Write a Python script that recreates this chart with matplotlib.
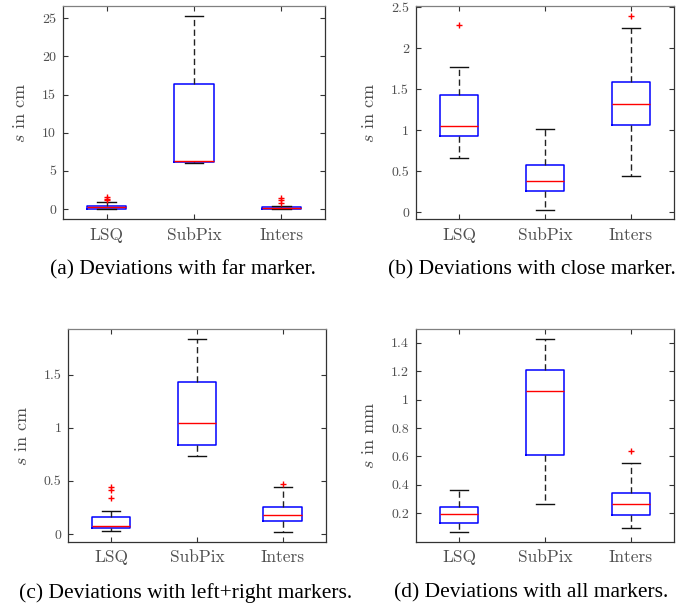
"""Four boxplot panels of localisation deviations (LSQ / SubPix / Inters)."""
import matplotlib

matplotlib.use("Agg")
import matplotlib.pyplot as plt  # noqa: E402
from matplotlib.ticker import FormatStrFormatter  # noqa: E402

plt.rcParams["mathtext.fontset"] = "cm"
plt.rcParams["axes.formatter.use_mathtext"] = True

METHODS = ["LSQ", "SubPix", "Inters"]

# (a) far marker, cm
A_Q1 = [0.05, 6.2, 0.05]
A_MED = [0.22, 6.3, 0.15]
A_Q3 = [0.38, 16.45, 0.25]
A_LO = [0.0, 6.1, 0.0]
A_HI = [0.9, 25.25, 0.45]
A_FLIERS = [[1.15, 1.35, 1.6], [], [0.8, 1.2, 1.45]]

# (b) close marker, cm
B_Q1 = [0.925, 0.253, 1.062]
B_MED = [1.055, 0.383, 1.315]
B_Q3 = [1.432, 0.578, 1.583]
B_LO = [0.663, 0.028, 0.443]
B_HI = [1.775, 1.017, 2.247]
B_FLIERS = [[2.28], [], [2.39]]

# (c) left+right markers, cm
C_Q1 = [0.059, 0.835, 0.125]
C_MED = [0.078, 1.042, 0.176]
C_Q3 = [0.16, 1.434, 0.251]
C_LO = [0.028, 0.732, 0.019]
C_HI = [0.219, 1.836, 0.443]
C_FLIERS = [[0.339, 0.415, 0.44], [], [0.471]]

# (d) all markers, mm
D_Q1 = [0.13, 0.612, 0.189]
D_MED = [0.196, 1.062, 0.268]
D_Q3 = [0.245, 1.207, 0.34]
D_LO = [0.071, 0.263, 0.098]
D_HI = [0.365, 1.426, 0.556]
D_FLIERS = [[], [], [0.64]]

PANELS = [
    dict(q1=A_Q1, med=A_MED, q3=A_Q3, lo=A_LO, hi=A_HI, fl=A_FLIERS,
         unit="cm", ylim=(-1.3, 26.6), yticks=[0, 5, 10, 15, 20, 25],
         rect=(0.0914, 0.6368, 0.3803, 0.3532), cap=(0.265, 0.544),
         caption="(a) Deviations with far marker."),
    dict(q1=B_Q1, med=B_MED, q3=B_Q3, lo=B_LO, hi=B_HI, fl=B_FLIERS,
         unit="cm", ylim=(-0.085, 2.516), yticks=[0, 0.5, 1, 1.5, 2, 2.5],
         rect=(0.6038, 0.6368, 0.3745, 0.3532), cap=(0.772, 0.544),
         caption="(b) Deviations with close marker."),
    dict(q1=C_Q1, med=C_MED, q3=C_Q3, lo=C_LO, hi=C_HI, fl=C_FLIERS,
         unit="cm", ylim=(-0.072, 1.927), yticks=[0, 0.5, 1, 1.5],
         rect=(0.0991, 0.1017, 0.3736, 0.3522), cap=(0.269, 0.009),
         caption="(c) Deviations with left+right markers."),
    dict(q1=D_Q1, med=D_MED, q3=D_Q3, lo=D_LO, hi=D_HI, fl=D_FLIERS,
         unit="mm", ylim=(0.0, 1.494), yticks=[0.2, 0.4, 0.6, 0.8, 1, 1.2, 1.4],
         rect=(0.6038, 0.1017, 0.3745, 0.3522), cap=(0.771, 0.009),
         caption="(d) Deviations with all markers."),
]

GRAY = "#505050"


def draw(fig, p):
    ax = fig.add_axes(p["rect"])
    stats = [dict(q1=p["q1"][i], med=p["med"][i], q3=p["q3"][i],
                  whislo=p["lo"][i], whishi=p["hi"][i], fliers=p["fl"][i])
             for i in range(len(METHODS))]
    ax.bxp(stats, positions=[1, 2, 3], widths=0.45, capwidths=0.21,
           boxprops=dict(color="#0000ff", lw=1.1),
           medianprops=dict(color="#ff0000", lw=1.0),
           whiskerprops=dict(color="#222222", lw=1.0, ls=(0, (4.5, 2.5))),
           capprops=dict(color="#111111", lw=1.0),
           flierprops=dict(marker="+", markeredgecolor="#ff0000",
                           markersize=4, markeredgewidth=1.0))
    ax.set_xlim(0.5, 3.5)
    ax.set_ylim(*p["ylim"])
    ax.set_yticks(p["yticks"])
    ax.yaxis.set_major_formatter(FormatStrFormatter("%g"))
    ax.set_xticks([1, 2, 3])
    ax.set_xticklabels(METHODS, family="cmr10", fontsize=12.5, color=GRAY)
    for lab in ax.get_yticklabels():
        lab.set_family("cmr10")
        lab.set_fontsize(10)
        lab.set_color(GRAY)
    ax.tick_params(direction="in", length=3.5, width=0.8, top=True, right=True,
                   color="#333333")
    ax.tick_params(axis="x", pad=6)
    ax.tick_params(axis="y", pad=5)
    for s in ax.spines.values():
        s.set_color("#333333")
        s.set_linewidth(0.9)
    ax.spines["top"].set_color("#808080")
    ax.set_ylabel(f"$s$ in {p['unit']}", family="cmr10", fontsize=13,
                  color=GRAY, labelpad=10)
    fig.text(p["cap"][0], p["cap"][1], p["caption"], ha="center",
             va="baseline", family="Liberation Serif", fontsize=15.5)


def main():
    fig = plt.figure(figsize=(6.89, 6.03), dpi=100)
    for p in PANELS:
        draw(fig, p)
    fig.savefig("out.png", dpi=100)
    plt.close(fig)


if __name__ == "__main__":
    main()
